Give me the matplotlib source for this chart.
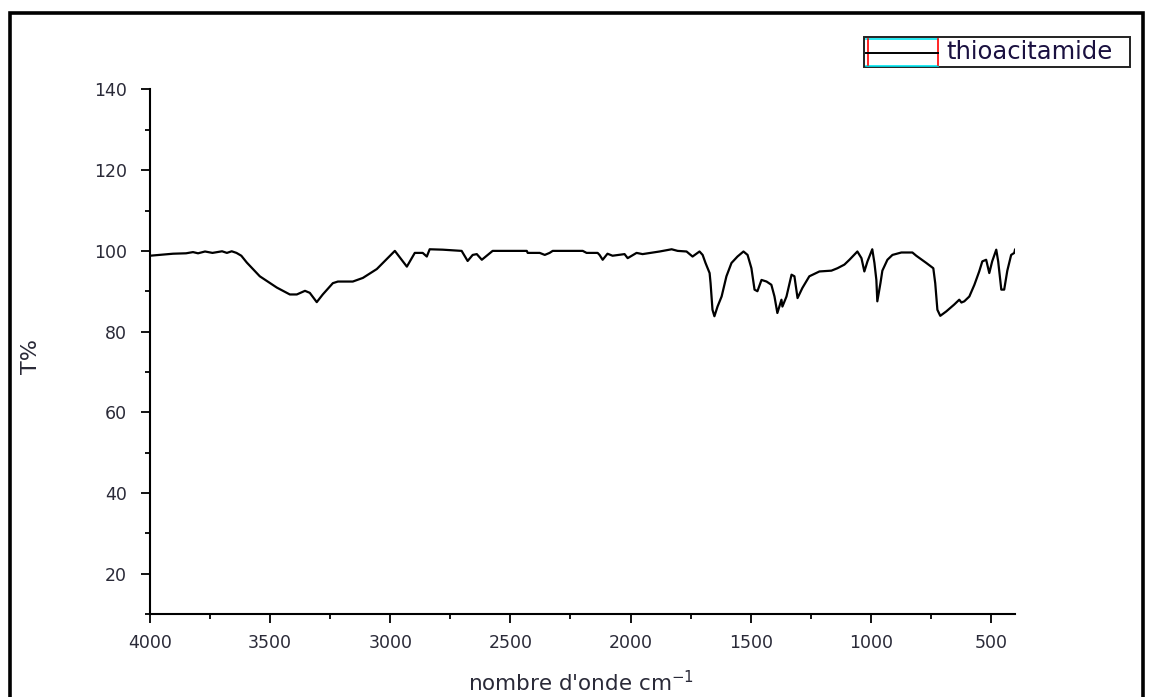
import matplotlib.pyplot as plt
from matplotlib.lines import Line2D
from matplotlib.patches import Rectangle
from matplotlib.ticker import MultipleLocator

plt.rcParams['font.family'] = ['DejaVu Sans']

# IR spectrum of thioacetamide, wavenumber (cm-1) vs transmittance (%)
wavenumber = [4000, 3904, 3850, 3821, 3800, 3771, 3740, 3700, 3680, 3660,
              3640, 3620, 3597, 3543, 3472, 3418, 3389, 3355, 3335, 3306,
              3281, 3239, 3218, 3156, 3114, 3056, 2981, 2931, 2898, 2865,
              2848, 2836, 2782, 2703, 2678, 2657, 2640, 2619, 2574, 2432,
              2428, 2378, 2357, 2337, 2324, 2199, 2183, 2137, 2129, 2116,
              2096, 2075, 2025, 2012, 1975, 1950, 1879, 1829, 1804, 1767,
              1742, 1713, 1700, 1688, 1671, 1667, 1659, 1651, 1638, 1621,
              1601, 1580, 1555, 1530, 1513, 1497, 1484, 1472, 1455, 1434,
              1414, 1401, 1389, 1372, 1368, 1351, 1330, 1318, 1305, 1285,
              1256, 1214, 1164, 1139, 1110, 1089, 1056, 1039, 1027, 1014,
              994, 985, 977, 973, 960, 952, 931, 910, 873, 827,
              811, 769, 740, 732, 723, 711, 686, 653, 632, 623,
              611, 590, 569, 549, 536, 520, 507, 495, 478, 470,
              457, 445, 432, 416, 403, 400]
transmittance = [98.8, 99.3, 99.4, 99.7, 99.4, 99.85, 99.5, 99.9, 99.5, 99.9,
                 99.5, 98.8, 97.1, 93.7, 90.9, 89.2, 89.2, 90.1, 89.6, 87.3,
                 89.2, 92.0, 92.4, 92.4, 93.3, 95.5, 100.0, 96.1, 99.5, 99.5,
                 98.6, 100.4, 100.3, 100.0, 97.5, 99.0, 99.2, 97.8, 100.0, 100.0,
                 99.5, 99.5, 99.0, 99.5, 100.0, 100.0, 99.5, 99.5, 99.0, 97.8,
                 99.3, 98.8, 99.2, 98.2, 99.5, 99.2, 99.85, 100.4, 100.0, 99.85,
                 98.6, 99.85, 99.0, 97.0, 94.5, 92.0, 85.4, 83.8, 86.2, 88.7,
                 93.7, 97.0, 98.6, 99.85, 99.0, 95.7, 90.4, 90.0, 92.8, 92.4,
                 91.6, 88.7, 84.6, 87.9, 86.2, 88.7, 94.1, 93.7, 88.3, 90.8,
                 93.7, 94.9, 95.1, 95.7, 96.6, 97.8, 99.85, 98.2, 94.9, 97.4,
                 100.4, 97.0, 92.8, 87.5, 92.0, 95.1, 97.8, 99.0, 99.6, 99.6,
                 98.8, 97.0, 95.7, 92.0, 85.4, 83.9, 85.0, 86.7, 87.9, 87.2,
                 87.5, 88.7, 91.6, 94.9, 97.4, 97.8, 94.5, 97.4, 100.3, 97.4,
                 90.4, 90.4, 95.1, 99.0, 99.5, 100.3]
y_ticks = [20, 40, 60, 80, 100, 120, 140]
x_ticks = [4000, 3500, 3000, 2500, 2000, 1500, 1000, 500]
series_name = 'thioacitamide'

W, H = 1153, 697
fig = plt.figure(figsize=(W / 100, H / 100), dpi=100)
ax = fig.add_axes([150 / W, 1 - 614 / H, 865 / W, (614 - 89.5) / H])


def px(x, y):
    # pixel position (from top-left) to figure fraction
    return x / W, 1 - y / H


ax.plot(wavenumber, transmittance, color='black', lw=1.6)

ax.set_xlim(4000, 400)
ax.set_ylim(10, 140)
ax.set_xticks(x_ticks)
ax.set_yticks(y_ticks)
ax.xaxis.set_minor_locator(MultipleLocator(250))
ax.yaxis.set_minor_locator(MultipleLocator(10))

for side in ('top', 'right'):
    ax.spines[side].set_visible(False)
for side in ('left', 'bottom'):
    ax.spines[side].set_linewidth(1.5)

ax.tick_params(which='major', length=6.5, width=1.3, labelsize=12.5,
               labelcolor='#2a2a38')
ax.tick_params(which='minor', length=3.6, width=1.3)
ax.tick_params(axis='x', which='major', pad=8)
ax.tick_params(axis='y', which='major', pad=10)

fig.text(*px(581, 683), "nombre d'onde cm$^{-1}$", fontsize=15.5,
         ha='center', va='center', color='#2a2a38')
fig.text(*px(31, 356), 'T%', fontsize=16, rotation=90,
         ha='center', va='center', color='#2a2a38')

# legend box drawn in the Origin style
x0, y0 = px(864, 67)
x1, y1 = px(1130, 37)
fig.add_artist(Rectangle((x0, y0), x1 - x0, y1 - y0, transform=fig.transFigure,
                         fill=False, edgecolor='#222222', lw=1.4))
for yy in (38.5, 65.5):
    fig.add_artist(Line2D([px(866, 0)[0], px(938, 0)[0]], [px(0, yy)[1]] * 2,
                          transform=fig.transFigure, color='#00e5f0', lw=1.2))
for xx in (868, 938):
    fig.add_artist(Line2D([px(xx, 0)[0]] * 2, [px(0, 39)[1], px(0, 65)[1]],
                          transform=fig.transFigure, color='red', lw=1.2))
fig.add_artist(Line2D([px(866, 0)[0], px(938, 0)[0]], [px(0, 53)[1]] * 2,
                      transform=fig.transFigure, color='black', lw=1.4))
fig.text(*px(946, 52), series_name, fontsize=17.5, ha='left', va='center',
         color='#1a1040')

# thick frame round the whole figure
fl, ft = px(10.5, 12.5)
fr, fb = px(1143, 700)
fig.add_artist(Rectangle((fl, fb), fr - fl, ft - fb, transform=fig.transFigure,
                         fill=False, edgecolor='black', lw=2.6))

fig.savefig('out.png', dpi=100)
